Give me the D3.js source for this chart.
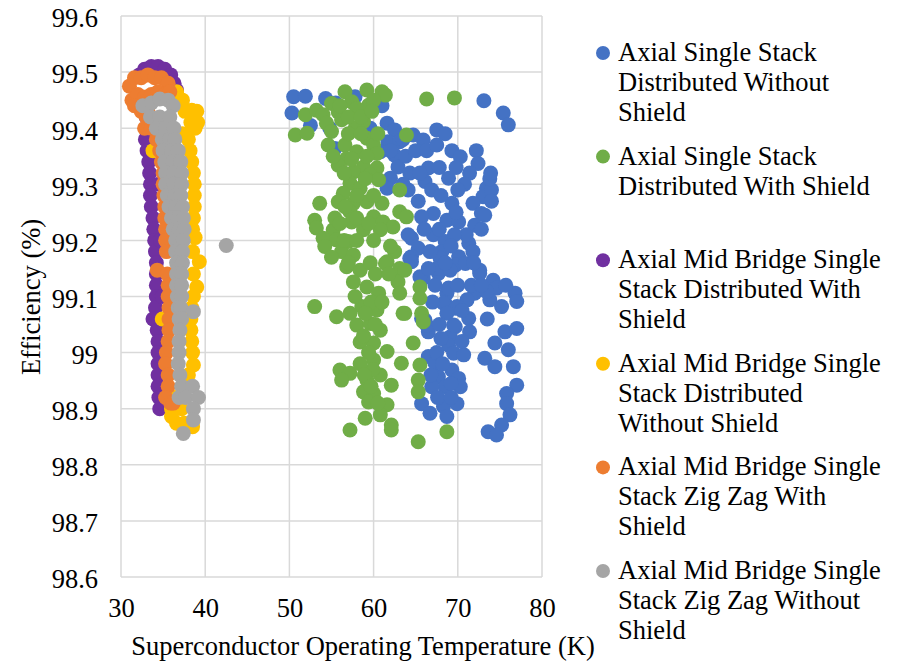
<!DOCTYPE html>
<html>
<head>
<meta charset="utf-8">
<script src="https://cdn.jsdelivr.net/npm/d3@7"></script>
<style>
  html, body { margin: 0; padding: 0; background: #fff; }
  svg text { font-family: "Times New Roman", "Liberation Serif", Times, "Nimbus Roman", "Nimbus Roman No9 L", FreeSerif, "Noto Serif", "DejaVu Serif", Tinos, serif; fill: #000; }
</style>
</head>
<body>
<svg id="chart" width="897" height="662"></svg>
<script>
// ---- data ----
const seriesNames = [
  "Axial Single Stack Distributed Without Shield",
  "Axial Single Stack Distributed With Shield",
  "Axial Mid Bridge Single Stack Distributed With Shield",
  "Axial Mid Bridge Single Stack Distributed Without Shield",
  "Axial Mid Bridge Single Stack Zig Zag With Shield",
  "Axial Mid Bridge Single Stack Zig Zag Without Shield"
];
const legendLines = [
  ["Axial Single Stack", "Distributed Without", "Shield"],
  ["Axial Single Stack", "Distributed With Shield"],
  ["Axial Mid Bridge Single", "Stack Distributed With", "Shield"],
  ["Axial Mid Bridge Single", "Stack Distributed", "Without Shield"],
  ["Axial Mid Bridge Single", "Stack Zig Zag With", "Shield"],
  ["Axial Mid Bridge Single", "Stack Zig Zag Without", "Shield"]
];
const seriesColors = ["#4472C4", "#70AD47", "#7030A0", "#FFC000", "#ED7D31", "#A5A5A5"];
const xTicks = [30, 40, 50, 60, 70, 80];
const yTicks = [98.6, 98.7, 98.8, 98.9, 99.0, 99.1, 99.2, 99.3, 99.4, 99.5, 99.6];

// [temperature K, efficiency %]
const blueDistNoShield = [
  [50.5,99.456],[51.9,99.457],[50.3,99.427],[54.3,99.453],[55.5,99.445],[57.8,99.456],[61.0,99.44],
  [52.5,99.405],[54.8,99.40],[55.4,99.364],[59.6,99.40],[61.6,99.409],[62.5,99.397],[61.7,99.376],
  [63.1,99.376],[64.7,99.388],[65.9,99.379],[67.5,99.397],[68.5,99.39],[73.1,99.449],[75.4,99.427],
  [76.0,99.406],[60.8,99.358],[62.5,99.352],[62.9,99.331],[64.3,99.32],[62.0,99.311],[64.1,99.29],
  [61.6,99.293],[69.3,99.36],[70.3,99.349],[72.2,99.36],[72.4,99.337],[66.5,99.329],[71.4,99.32],
  [68.9,99.311],[66.1,99.305],[66.9,99.29],[73.4,99.293],[73.0,99.278],[71.8,99.266],[72.8,99.248],
  [69.3,99.266],[67.1,99.248],[65.7,99.242],[68.7,99.236],[70.1,99.233],[72.0,99.227],[73.2,99.245],
  [64.5,99.204],[67.1,99.21],[68.5,99.198],[71.3,99.195],[65.3,99.186],[68.1,99.18],[70.1,99.171],
  [64.1,99.21],[64.5,99.171],[64.3,99.168],[67.9,99.168],[72.6,99.147],[64.5,99.162],[65.9,99.132],
  [67.7,99.141],[69.7,99.156],[70.9,99.159],[72.6,99.141],[74.2,99.129],[74.6,99.115],[76.8,99.106],
  [77.0,99.091],[75.2,99.082],[73.8,99.094],[72.0,99.106],[68.5,99.088],[69.7,99.079],[71.1,99.094],
  [71.3,99.061],[71.4,99.037],[69.7,99.046],[69.1,99.028],[66.5,99.037],[66.1,99.058],[75.6,99.037],
  [77.0,99.043],[74.4,99.017],[76.0,99.005],[73.2,98.99],[74.4,98.975],[76.6,98.975],[68.9,99.013],
  [69.5,98.999],[70.7,98.996],[66.5,98.993],[67.3,98.981],[67.7,98.957],[69.3,98.969],[70.1,98.954],
  [70.3,98.939],[68.5,98.939],[66.9,98.939],[65.7,98.909],[66.7,98.892],[68.3,98.904],[68.7,98.886],
  [69.9,98.909],[77.0,98.942],[75.8,98.927],[75.8,98.909],[76.2,98.889],[75.2,98.871],[73.6,98.859],
  [74.6,98.853],[65.5,99.135],[67.5,99.15],[69.1,99.147],[68.7,99.106],[68.3,99.088],[69.9,99.082],
  [68.7,99.07],[69.5,99.049],[66.3,99.049],[65.7,99.061],[68.9,99.115],[73.4,99.109],
  [63.5,99.38],[62.0,99.36],[63.8,99.35],[65.0,99.36],[66.3,99.36],[67.5,99.37],[63.5,99.30],
  [65.5,99.32],[67.8,99.33],[69.8,99.33],[70.8,99.30],[70.0,99.29],[68.0,99.28],[65.3,99.27],
  [69.8,99.25],[71.0,99.21],[69.6,99.21],[66.0,99.22],[67.8,99.22],[66.7,99.18],[69.2,99.19],
  [71.8,99.18],[71.9,99.16],[68.5,99.16],[66.5,99.15],[70.0,99.12],[67.3,99.12],[71.6,99.12],
  [67.0,99.09],[70.5,99.075],[67.8,99.05],[68.0,99.025],[70.5,99.02],[67.5,99.00],[68.2,98.98],
  [66.8,98.96],[69.2,98.945],[67.6,98.92],[69.2,98.92],[73.5,99.06],[72.8,99.12],[75.7,99.12],
  [74.0,99.29],[73.8,99.31],[72.8,99.22],[73.9,99.32],[74.0,99.27]
];
const greenDistShield = [
  [50.7,99.388],[52.1,99.391],[51.9,99.424],[53.2,99.432],[55.0,99.444],[56.6,99.465],[59.2,99.468],
  [61.0,99.465],[61.4,99.459],[59.4,99.441],[57.4,99.447],[58.0,99.435],[55.8,99.429],[54.0,99.424],
  [54.4,99.409],[56.2,99.415],[58.8,99.412],[55.0,99.394],[57.8,99.40],[59.2,99.382],[60.0,99.37],
  [54.6,99.37],[56.6,99.37],[58.0,99.358],[60.4,99.355],[56.8,99.346],[55.8,99.334],[58.8,99.331],
  [60.4,99.329],[57.6,99.322],[59.6,99.317],[60.6,99.308],[57.2,99.302],[58.4,99.293],[56.4,99.284],
  [55.8,99.269],[53.6,99.266],[57.6,99.266],[59.2,99.269],[61.0,99.266],[63.1,99.29],[63.9,99.388],
  [66.3,99.452],[69.6,99.454],[63.1,99.251],[63.9,99.242],[57.2,99.251],[57.4,99.233],[60.0,99.242],
  [61.1,99.233],[62.3,99.224],[53.0,99.236],[53.2,99.222],[55.2,99.219],[58.8,99.219],[60.8,99.219],
  [54.0,99.204],[55.6,99.201],[57.0,99.198],[54.2,99.189],[56.2,99.18],[57.6,99.174],[62.5,99.18],
  [61.6,99.162],[56.8,99.153],[58.4,99.147],[61.4,99.159],[63.1,99.15],[62.9,99.126],[63.1,99.106],
  [57.6,99.126],[59.2,99.117],[60.6,99.106],[58.6,99.082],[60.4,99.076],[53.0,99.082],[55.6,99.064],
  [57.2,99.07],[58.0,99.049],[59.6,99.052],[60.8,99.04],[63.5,99.07],[58.4,99.019],[60.0,99.017],
  [61.6,99.002],[64.7,99.017],[60.0,98.987],[63.3,98.981],[56.0,98.969],[57.2,98.963],[56.2,98.951],
  [59.2,98.951],[60.8,98.96],[62.1,98.942],[58.8,98.93],[60.0,98.927],[59.4,98.912],[61.6,98.907],
  [60.8,98.889],[59.0,98.883],[62.1,98.871],[62.1,98.862],[57.2,98.862],[65.5,99.117],[65.5,99.097],
  [65.7,99.07],[65.9,99.055],[65.5,98.978],[65.3,98.951],[65.3,98.93],[68.7,98.859],[65.3,98.841],
  [63.7,99.147],[63.7,99.07],
  [56.0,99.44],[57.0,99.42],[58.5,99.42],[60.0,99.45],[59.8,99.43],[57.0,99.39],[58.5,99.39],
  [60.5,99.39],[59.2,99.35],[57.4,99.345],[55.2,99.35],[56.5,99.32],[59.0,99.31],[58.0,99.28],
  [60.0,99.28],[56.6,99.26],[55.4,99.24],[56.0,99.23],[58.0,99.24],[59.4,99.23],[56.5,99.20],
  [58.0,99.20],[60.0,99.20],[55.0,99.17],[57.0,99.16],[59.6,99.16],[60.2,99.14],[61.8,99.14],
  [62.0,99.19],[57.8,99.10],[59.7,99.09],[61.0,99.09],[59.0,99.07],[58.8,99.03],[59.4,99.00],
  [60.2,99.05],[59.9,98.97],[58.4,98.98],[58.9,98.96],[59.7,98.94],[60.5,98.91]
];
const purpleMidDistShield = [
  [32.2,99.495],[32.8,99.505],[33.6,99.51],[34.4,99.51],[35.2,99.505],[35.9,99.495],[36.3,99.48],
  [36.6,99.468],[33.1,99.44],[33.0,99.42],[33.0,99.40],[32.9,99.38],[33.1,99.36],[33.3,99.34],
  [33.4,99.32],[33.5,99.30],[33.5,99.28],[33.6,99.26],[33.8,99.24],[33.9,99.22],[34.0,99.20],
  [34.1,99.18],[34.2,99.16],[34.2,99.14],[34.2,99.12],[34.2,99.10],[34.1,99.08],[33.8,99.06],
  [34.3,99.04],[34.4,99.02],[34.4,99.00],[34.4,98.98],[34.4,98.96],[34.4,98.94],[34.5,98.92],
  [34.6,98.90],[35.0,99.40],[34.5,99.30],[34.7,99.20],[34.9,99.10],[35.1,99.00],[35.0,98.91]
];
const yellowMidDistNoShield = [
  [38.4,99.432],[39.0,99.43],[38.3,99.41],[39.1,99.41],[38.8,99.40],[38.0,99.38],[38.2,99.36],
  [38.4,99.34],[38.6,99.32],[38.7,99.30],[38.7,99.28],[38.7,99.26],[38.6,99.24],[38.5,99.22],
  [38.8,99.205],[38.5,99.18],[39.3,99.162],[38.6,99.14],[39.0,99.117],[38.6,99.10],[38.4,99.08],
  [38.3,99.06],[38.3,99.04],[38.4,99.02],[38.5,99.00],[38.6,98.978],[38.0,98.96],[37.6,98.94],
  [36.4,98.92],[37.0,98.92],[36.0,98.90],[37.2,98.90],[36.0,98.886],[36.6,98.874],[37.5,98.874],
  [38.5,98.868],[36.6,99.465],[36.8,99.455],[37.3,99.45],[37.6,99.43],[37.3,99.39],[33.8,99.36],
  [34.9,99.06]
];
const orangeMidZigShield = [
  [31.0,99.475],[31.6,99.49],[32.4,99.49],[33.2,99.495],[34.0,99.49],[34.8,99.49],[35.6,99.48],
  [31.3,99.45],[32.0,99.46],[32.8,99.455],[33.6,99.46],[34.4,99.465],[35.2,99.46],[35.8,99.465],
  [31.6,99.44],[32.4,99.43],[33.0,99.42],[32.8,99.40],[33.2,99.43],
  [33.6,99.40],[34.2,99.38],[34.6,99.36],[34.8,99.34],[35.0,99.32],[35.0,99.30],[35.1,99.28],
  [35.2,99.26],[35.2,99.24],[35.3,99.22],[35.3,99.20],[35.4,99.18],[34.3,99.147],[35.5,99.14],
  [35.6,99.12],[35.6,99.10],[35.7,99.08],[35.7,99.06],[35.7,99.04],[35.6,99.02],[35.4,99.00],
  [35.3,98.98],[35.6,98.96],[35.6,98.94],[35.3,98.92],[35.9,98.91],[36.2,98.91]
];
const grayMidZigNoShield = [
  [32.6,99.44],[33.6,99.445],[34.6,99.452],[35.6,99.45],[36.2,99.44],[33.5,99.42],[34.6,99.42],
  [35.8,99.42],[34.2,99.40],[35.3,99.40],[36.3,99.40],[34.9,99.38],[35.8,99.38],[36.4,99.38],
  [35.0,99.36],[36.0,99.36],[36.8,99.36],[35.2,99.34],[36.2,99.34],[37.1,99.34],[35.3,99.32],
  [36.3,99.32],[37.2,99.32],[35.3,99.30],[36.3,99.30],[37.2,99.30],[35.5,99.28],[36.4,99.28],
  [37.1,99.28],[35.7,99.26],[36.5,99.26],[37.3,99.26],[36.0,99.24],[36.8,99.24],[37.4,99.24],
  [36.2,99.22],[36.9,99.22],[37.5,99.22],[36.5,99.20],[37.4,99.20],[36.5,99.18],[37.3,99.18],
  [36.6,99.16],[37.3,99.16],[36.6,99.14],[37.2,99.14],[36.6,99.12],[37.2,99.12],[36.7,99.10],
  [37.2,99.10],[36.8,99.08],[37.1,99.08],[38.6,99.073],[36.9,99.06],[37.2,99.06],[37.0,99.04],
  [36.9,99.02],[36.9,99.00],[36.8,98.98],[37.0,98.96],[37.2,98.94],[38.5,98.94],[36.9,98.92],
  [37.7,98.92],[39.2,98.92],[38.6,98.90],[38.6,98.88],[37.4,98.856],[42.5,99.191]
];
const allSeries = [blueDistNoShield, greenDistShield, purpleMidDistShield,
                   yellowMidDistNoShield, orangeMidZigShield, grayMidZigNoShield];

// ---- chart ----
const svg = d3.select("#chart");
const plotL = 121, plotR = 542, plotT = 16, plotB = 577;
const x = d3.scaleLinear().domain([30, 80]).range([plotL, plotR]);
const y = d3.scaleLinear().domain([98.6, 99.6]).range([plotB, plotT]);
const gridColor = "#d9d9d9";
const serif = '"Times New Roman", "Liberation Serif", Times, "Nimbus Roman", FreeSerif, "Noto Serif", "DejaVu Serif", Tinos, serif';
const fs = 26.5;

// gridlines
svg.append("g").selectAll("line").data(yTicks).join("line")
  .attr("x1", plotL).attr("x2", plotR)
  .attr("y1", d => y(d)).attr("y2", d => y(d))
  .attr("stroke", gridColor).attr("stroke-width", 1.5);
svg.append("g").selectAll("line").data(xTicks).join("line")
  .attr("y1", plotT).attr("y2", plotB)
  .attr("x1", d => x(d)).attr("x2", d => x(d))
  .attr("stroke", gridColor).attr("stroke-width", 1.5);

// axes (labels only)
const fmt = d => String(+d.toFixed(1));
const yAxis = svg.append("g").attr("transform", `translate(${plotL},0)`)
  .call(d3.axisLeft(y).tickValues(yTicks).tickFormat(fmt).tickSize(0).tickPadding(23));
yAxis.attr("font-family", serif);
yAxis.select(".domain").remove();
yAxis.selectAll("text").attr("font-size", fs).attr("dy", "0.41em").attr("fill", "#000");

const xAxis = svg.append("g").attr("transform", `translate(0,${plotB})`)
  .call(d3.axisBottom(x).tickValues(xTicks).tickFormat(d => d).tickSize(0).tickPadding(21));
xAxis.attr("font-family", serif);
xAxis.select(".domain").remove();
xAxis.selectAll("text").attr("font-size", fs).attr("fill", "#000");

// points
allSeries.forEach((data, i) => {
  svg.append("g").selectAll("circle").data(data).join("circle")
    .attr("cx", d => x(d[0])).attr("cy", d => y(d[1]))
    .attr("r", 7.5).attr("fill", seriesColors[i]);
});

// axis titles
svg.append("text").attr("x", 363).attr("y", 655).attr("text-anchor", "middle")
  .attr("font-family", serif).attr("font-size", fs)
  .text("Superconductor Operating Temperature (K)");
svg.append("text").attr("transform", "translate(40,297) rotate(-90)")
  .attr("text-anchor", "middle").attr("font-family", serif).attr("font-size", fs)
  .text("Efficiency (%)");

// legend
const legend = svg.append("g").attr("font-family", serif);
legendLines.forEach((lines, i) => {
  const base = 61 + i * 103.6;
  legend.append("circle").attr("cx", 603).attr("cy", base - 8).attr("r", 7)
    .attr("fill", seriesColors[i]);
  const t = legend.append("text").attr("font-size", fs);
  lines.forEach((ln, j) => {
    t.append("tspan").attr("x", 618).attr("y", base + j * 30).text(ln);
  });
});
</script>
</body>
</html>
